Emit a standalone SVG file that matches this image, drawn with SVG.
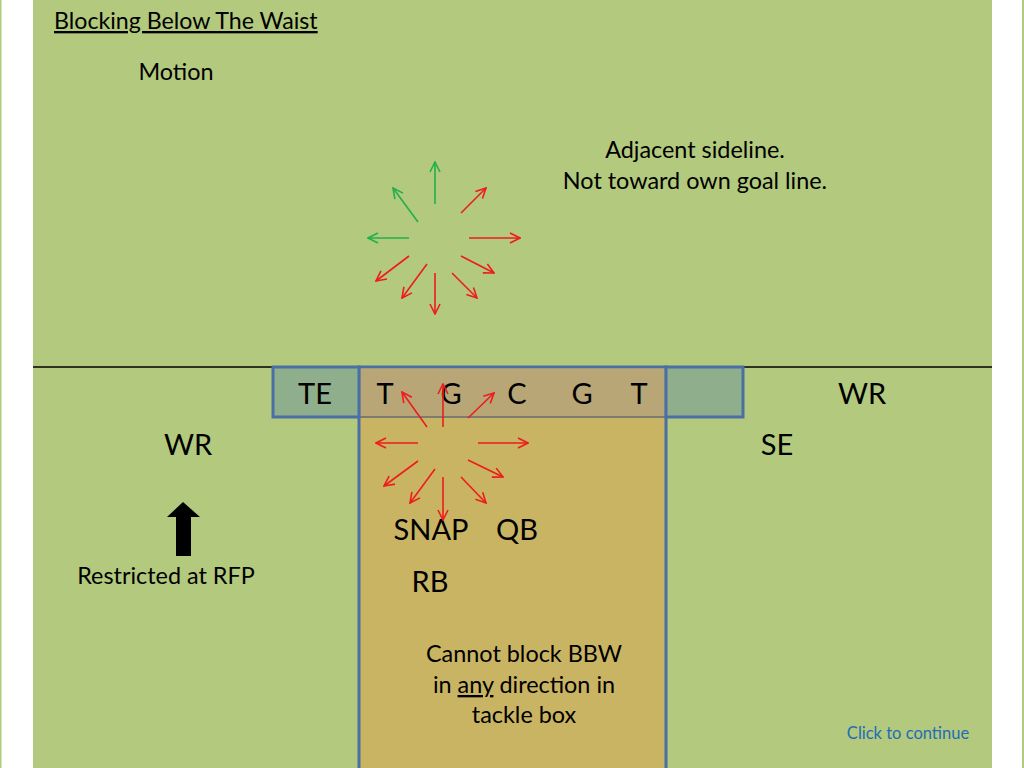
<svg xmlns="http://www.w3.org/2000/svg" width="1024" height="768" viewBox="0 0 1024 768">
<style>
text{font-family:Lato,"Open Sans","Liberation Sans",sans-serif;fill:#000}
.s{font-size:23.4px}
.b{font-size:29px}
.box{stroke:#4a6fa5;stroke-width:3}
.g{stroke:#22b04a;stroke-width:1.6;fill:none;marker-end:url(#mg)}
.r{stroke:#ee1c1c;stroke-width:1.6;fill:none;marker-end:url(#mr)}
</style>
<defs>
<marker id="mg" viewBox="0 0 12 12" refX="11" refY="6" markerWidth="12" markerHeight="12" markerUnits="userSpaceOnUse" orient="auto"><path d="M1,1 L11,6 L1,11" fill="none" stroke="#22b04a" stroke-width="1.6"/></marker>
<marker id="mr" viewBox="0 0 12 12" refX="11" refY="6" markerWidth="12" markerHeight="12" markerUnits="userSpaceOnUse" orient="auto"><path d="M1,1 L11,6 L1,11" fill="none" stroke="#ee1c1c" stroke-width="1.6"/></marker>
</defs>
<rect width="1024" height="768" fill="#ffffff"/>
<rect x="0" y="0" width="1.5" height="768" fill="#b2c97e"/>
<rect x="1022" y="0" width="2" height="768" fill="#b2c97e"/>
<rect x="33" y="0" width="959" height="768" fill="#b2c97e"/>
<line x1="33" y1="367" x2="992" y2="367" stroke="#000" stroke-width="1.5"/>
<g id="tackle-box"><rect class="box" x="359" y="367" width="307" height="403" fill="#c9b463"/><rect x="360.5" y="368.5" width="304" height="48" fill="#b9a676"/><line x1="359" y1="417" x2="666" y2="417" stroke="#7d7a70" stroke-width="2"/></g>
<g id="te-box"><rect class="box" x="273" y="367" width="86" height="50" fill="#8fae8c"/></g>
<g id="right-box"><rect class="box" x="666" y="367" width="77" height="50" fill="#8fae8c"/></g>
<g id="title"><text class="s" x="54" y="29" text-decoration="underline" style="font-size:23.2px">Blocking Below The Waist</text></g>
<g id="motion"><text class="s" x="176" y="80" text-anchor="middle">Motion</text></g>
<g id="adjacent"><text class="s" x="695" y="158" text-anchor="middle">Adjacent sideline.</text><text class="s" x="695" y="189" text-anchor="middle">Not toward own goal line.</text></g>
<g id="players">
<text class="b" x="315" y="404" text-anchor="middle">TE</text>
<text class="b" x="385" y="404" text-anchor="middle">T</text>
<text class="b" x="451" y="404" text-anchor="middle">G</text>
<text class="b" x="517" y="404" text-anchor="middle">C</text>
<text class="b" x="582" y="404" text-anchor="middle">G</text>
<text class="b" x="639" y="404" text-anchor="middle">T</text>
<text class="b" x="862" y="404" text-anchor="middle">WR</text>
<text class="b" x="188" y="455" text-anchor="middle">WR</text>
<text class="b" x="777" y="455" text-anchor="middle">SE</text>
<text class="b" x="431" y="540" text-anchor="middle">SNAP</text>
<text class="b" x="517" y="540" text-anchor="middle">QB</text>
<text class="b" x="430" y="592" text-anchor="middle">RB</text>
</g>
<g id="rfp"><polygon points="183,502 200,517 191,517 191,556 176,556 176,517 167,517" fill="#000"/><text class="s" x="166" y="584" text-anchor="middle">Restricted at RFP</text></g>
<g id="cannot"><text class="s" x="524" y="662" text-anchor="middle">Cannot block BBW</text><text class="s" x="524" y="693" text-anchor="middle">in <tspan text-decoration="underline">any</tspan> direction in</text><text class="s" x="524" y="723" text-anchor="middle">tackle box</text></g>
<g id="continue"><text x="908" y="739" text-anchor="middle" style="font-size:16.5px;fill:#1f6db5">Click  to  continue</text></g>
<g id="connectors">
<line class="g" x1="435" y1="204" x2="435" y2="162"/>
<line class="g" x1="418" y1="222" x2="393" y2="188"/>
<line class="g" x1="409" y1="238" x2="368" y2="238"/>
<line class="r" x1="461" y1="213" x2="486" y2="188"/>
<line class="r" x1="469" y1="238" x2="520" y2="238"/>
<line class="r" x1="461" y1="256" x2="494" y2="273"/>
<line class="r" x1="452" y1="273" x2="477" y2="298"/>
<line class="r" x1="435" y1="273" x2="435" y2="314"/>
<line class="r" x1="427" y1="264" x2="402" y2="298"/>
<line class="r" x1="409" y1="256" x2="376" y2="281"/>
<line class="r" x1="443" y1="427" x2="443" y2="384"/>
<line class="r" x1="427" y1="427" x2="402" y2="392"/>
<line class="r" x1="468" y1="418" x2="494" y2="393"/>
<line class="r" x1="418" y1="443" x2="376" y2="443"/>
<line class="r" x1="478" y1="443" x2="528" y2="443"/>
<line class="r" x1="468" y1="460" x2="503" y2="477"/>
<line class="r" x1="461" y1="477" x2="486" y2="503"/>
<line class="r" x1="443" y1="477" x2="443" y2="520"/>
<line class="r" x1="435" y1="469" x2="410" y2="503"/>
<line class="r" x1="418" y1="461" x2="384" y2="486"/>
</g>
</svg>
